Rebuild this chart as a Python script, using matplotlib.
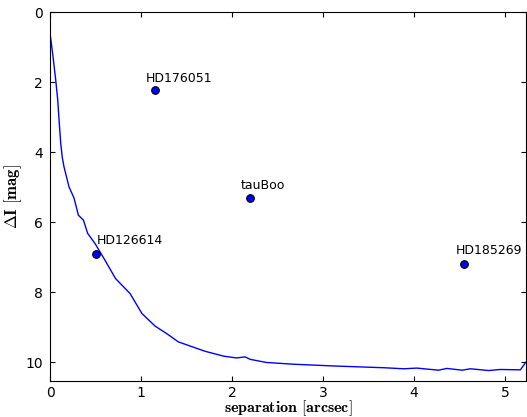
import matplotlib
matplotlib.use('Agg')
import matplotlib.pyplot as plt

# contrast curve (separation in arcsec, delta I in mag)
sep = [0.0, 0.03, 0.063, 0.085, 0.10, 0.118, 0.135, 0.154, 0.209, 0.264, 0.312, 0.367,
       0.414, 0.495, 0.605, 0.72, 0.88, 1.01, 1.155, 1.28, 1.41, 1.54,
       1.705, 1.91, 2.05, 2.145, 2.2, 2.38, 2.68, 3.12, 3.67, 3.89,
       4.03, 4.27, 4.36, 4.53, 4.62, 4.82, 4.95, 5.17, 5.23]
dmag = [0.6, 1.2, 1.94, 2.51, 3.1, 3.75, 4.15, 4.42, 4.99, 5.31, 5.8, 5.94,
        6.32, 6.61, 7.09, 7.61, 8.04, 8.61, 8.97, 9.18, 9.42, 9.54,
        9.69, 9.83, 9.88, 9.85, 9.92, 10.01, 10.06, 10.11, 10.16, 10.19,
        10.17, 10.23, 10.18, 10.23, 10.19, 10.24, 10.21, 10.22, 10.0]

# companions
names = ['HD176051', 'tauBoo', 'HD126614', 'HD185269']
star_sep = [1.155, 2.2, 0.50, 4.555]
star_dmag = [2.22, 5.31, 6.91, 7.2]
label_offsets = [(-6.5, 6.0), (-6.5, 6.5), (0.7, 7.0), (-6.0, 7.0)]  # points

plt.rcParams['mathtext.fontset'] = 'cm'

fig = plt.figure(figsize=(5.27, 4.17), dpi=100)
ax = fig.add_axes([0.0949, 0.0871, 0.903, 0.8834])

ax.plot(sep, dmag, color='blue', lw=1.0)
ax.plot(star_sep, star_dmag, 'o', color='blue', mec='black', mew=0.8, ms=5.5)
for n, x, y, off in zip(names, star_sep, star_dmag, label_offsets):
    ax.annotate(n, (x, y), xytext=off, textcoords='offset points',
                fontsize=9, va='baseline', ha='left')

ax.set_xlim(0, 5.23)
ax.set_ylim(10.53, 0)
ax.set_xticks([0, 1, 2, 3, 4, 5])
ax.set_yticks([0, 2, 4, 6, 8, 10])
ax.tick_params(direction='in', top=True, right=True, length=3.5, labelsize=10, pad=5)
ax.tick_params(axis='x', pad=4)

ax.set_xlabel(r'$\mathbf{separation\ [arcsec]}$', fontsize=11.5, labelpad=-1)
ax.set_ylabel(r'$\mathbf{\Delta I\ [mag]}$', fontsize=12, labelpad=1)

fig.savefig('out.png', dpi=100)
